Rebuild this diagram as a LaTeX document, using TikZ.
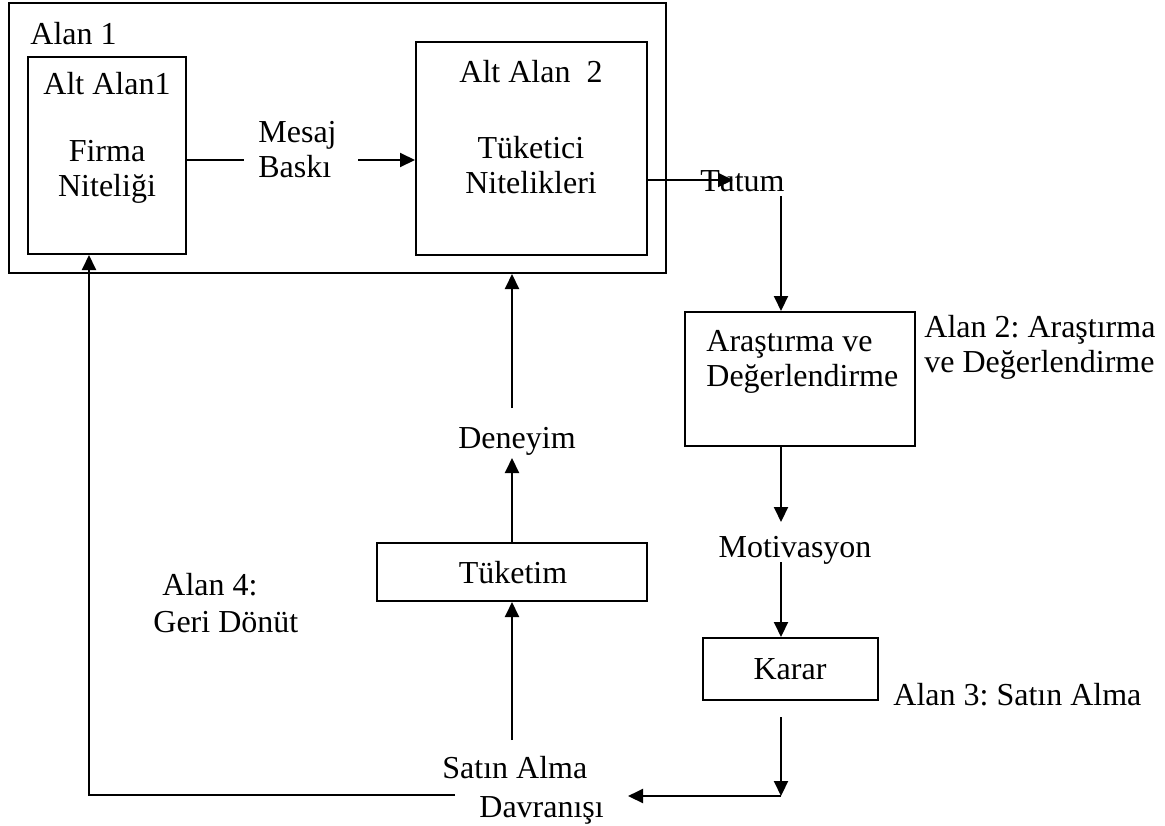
\documentclass[tikz,border=0pt]{standalone}
\usepackage{fontspec}
\setmainfont{Liberation Serif}
\usetikzlibrary{arrows.meta,positioning}
\frenchspacing

\tikzset{
  kutu/.style={draw, line width=1pt, inner sep=0pt},
  yazi/.style={inner sep=0pt, font=\fontsize{16}{17.5}\selectfont},
  cizgi/.style={line width=1pt},
  ok/.style={line width=1pt, -{Triangle[length=7.5pt,width=7pt]}}
}

\begin{document}
\begin{tikzpicture}[x=0.5pt,y=-0.5pt]
\useasboundingbox (0,0) rectangle (1165,825);

% kutular
\node (alan1) [kutu, minimum width=328.5pt, minimum height=135pt] at (337.5,138) {};
\node (alt1) [kutu, minimum width=79pt, minimum height=98.5pt] at (107,155.5) {};
\node (alt2) [kutu, minimum width=115.5pt, minimum height=106.5pt] at (531.5,148.5) {};
\node (arastirma) [kutu, minimum width=115pt, minimum height=67pt] at (800,379) {};
\node (tuketim) [kutu, minimum width=135pt, minimum height=29pt] at (512,572) {};
\node (karar) [kutu, minimum width=87.5pt, minimum height=31pt] at (790.5,669) {};

% yazilar (cok satirli: base = son satir)
\node (alan1yazi) [yazi, anchor=base west] at (30,44) {Alan 1};
\node (alt1baslik) [yazi, anchor=base] at (107,94) {Alt Alan1};
\node (firma) [yazi, anchor=base, align=center] at (107,196) {Firma\\Niteliği};
\node (mesaj) [yazi, anchor=base west, align=left] at (258,177) {Mesaj\\Baskı};
\node (alt2baslik) [yazi, anchor=base] at (531,82) {Alt Alan~ 2};
\node (nitelik) [yazi, anchor=base, align=center] at (531,193) {Tüketici\\Nitelikleri};
\node (tutum) [yazi, anchor=base west] at (700,191) {Tutum};
\node (arastirmayazi) [yazi, anchor=base west, align=left] at (706,386) {Araştırma ve\\Değerlendirme};
\node (alan2) [yazi, anchor=base west, align=left] at (924,372) {Alan 2: Araştırma\\ve Değerlendirme};
\node (deneyim) [yazi, anchor=base] at (517,448) {Deneyim};
\node (tuketimyazi) [yazi, anchor=base] at (513,583) {Tüketim};
\node (motivasyon) [yazi, anchor=base] at (795,557) {Motivasyon};
\node (kararyazi) [yazi, anchor=base] at (790,679) {Karar};
\node (alan3) [yazi, anchor=base west] at (893,705) {Alan 3: Satın Alma};
\node (alan4) [yazi, anchor=base west] at (162,595) {Alan 4:};
\node (geri) [yazi, anchor=base west] at (153,632) {Geri Dönüt};
\node (satin) [yazi, anchor=base west] at (442,778) {Satın Alma};
\node (davranis) [yazi, anchor=base west] at (479,817) {Davranışı};

% baglanti noktalari
\coordinate (mgir) at (244,160);
\coordinate (mcik) at (358,160);
\coordinate (tgir) at (733,180);
\coordinate (tcik) at (781,196);
\coordinate (mot1) at (781,522);
\coordinate (mot2) at (781,562);
\coordinate (kar2) at (781,717);
\coordinate (kose) at (781,796);
\coordinate (dav) at (628,796);
\coordinate (sat1) at (455,795);
\coordinate (sol) at (89,795);
\coordinate (sat2) at (512,740);
\coordinate (den1) at (512,458);
\coordinate (den2) at (512,408);

% oklar
\draw [cizgi] (alt1.east |- mgir) -- (mgir);
\draw [ok] (mcik) -- (alt2.west |- mcik);
\draw [ok] (alt2.east |- tgir) -- (tgir);
\draw [ok] (tcik) -- (tcik |- arastirma.north);
\draw [ok] (tcik |- arastirma.south) -- (mot1);
\draw [ok] (mot2) -- (mot2 |- karar.north);
\draw [ok] (kar2) -- (kose);
\draw [ok] (kose) -- (dav);
\draw [ok] (sat1) -- (sol) -- (sol |- alt1.south);
\draw [ok] (sat2) -- (sat2 |- tuketim.south);
\draw [ok] (tuketim.north) -- (den1);
\draw [ok] (den2) -- (den2 |- alan1.south);

\end{tikzpicture}
\end{document}
